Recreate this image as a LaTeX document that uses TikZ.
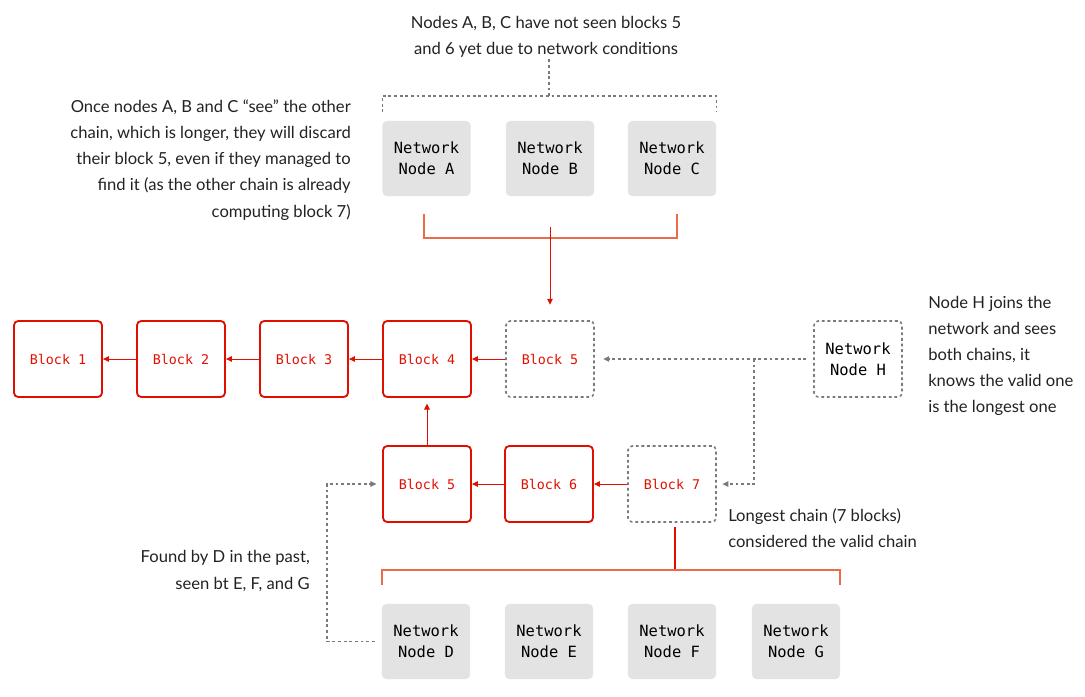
\documentclass[tikz,border=0pt]{standalone}
\usepackage{fontspec}
\setmainfont{Lato}
\setmonofont{DejaVu Sans Mono}
\usetikzlibrary{arrows.meta}
\definecolor{chainred}{HTML}{E00F00}
\definecolor{bracketred}{HTML}{EC6A4C}
\definecolor{nodegrey}{HTML}{E3E3E3}
\definecolor{dashgrey}{HTML}{7A7A7A}
\definecolor{notegrey}{HTML}{222222}

\begin{document}
\begin{tikzpicture}[x=0.025cm,y=-0.025cm,blk/.style={draw=chainred,line width=1.3pt,rounded corners=3pt,minimum width=2.2cm,minimum height=1.9cm,font=\ttfamily\fontsize{9.5}{12}\selectfont,text=chainred},pend/.style={blk,draw=dashgrey,dash pattern=on 2pt off 2pt,line width=1.1pt},net/.style={fill=nodegrey,rounded corners=3pt,minimum width=2.2cm,minimum height=1.875cm,align=center,font=\ttfamily\fontsize{11}{15}\selectfont},note/.style={font=\fontsize{11.8}{18.6}\selectfont,text=notegrey,inner sep=0pt},a/.style={-{Triangle[length=1.5mm,width=1.4mm]},draw=chainred,line width=0.7pt},g/.style={-{Triangle[length=1.5mm,width=1.4mm]},draw=dashgrey,dash pattern=on 2pt off 2pt,line width=0.8pt},gl/.style={draw=dashgrey,dash pattern=on 2pt off 2pt,line width=0.8pt},br/.style={draw=bracketred,line width=1pt}]
\useasboundingbox (0,0) rectangle (1085,697);
\node[note,align=center] (topnote) at (546,37) {Nodes A, B, C have not seen blocks 5\\and 6 yet due to network conditions};
\node[net] (a) at (426.5,158.5) {Network\\Node A};
\node[net] (b) at (550,158.5) {Network\\Node B};
\node[net] (c) at (672,158.5) {Network\\Node C};
\node[note,align=right,anchor=east] (seenote) at (351,160) {Once nodes A, B and C “see” the other\\chain, which is longer, they will discard\\their block 5, even if they managed to\\find it (as the other chain is already\\computing block 7)};
% main chain
\node[blk] (b1) at (58,359) {Block 1};
\node[blk] (b2) at (181,359) {Block 2};
\node[blk] (b3) at (304,359) {Block 3};
\node[blk] (b4) at (427,359) {Block 4};
\node[pend] (b5a) at (550,359) {Block 5};
\node[pend,text=black,align=center,font=\ttfamily\fontsize{11}{15}\selectfont] (h) at (858,359) {Network\\Node H};
\node[note,align=left,anchor=west] (hnote) at (928,356) {Node H joins the\\network and sees\\both chains, it\\knows the valid one\\is the longest one};
% longer chain
\node[blk] (b5b) at (427,484) {Block 5};
\node[blk] (b6) at (549,484) {Block 6};
\node[pend] (b7) at (672,484) {Block 7};
\node[note,align=left,anchor=west] (longnote) at (728,528) {Longest chain (7 blocks)\\considered the valid chain};
\node[note,align=right,anchor=east] (foundnote) at (310,571) {Found by D in the past,\\seen bt E, F, and G};
\node[net] (d) at (426,641.5) {Network\\Node D};
\node[net] (e) at (549,641.5) {Network\\Node E};
\node[net] (f) at (672,641.5) {Network\\Node F};
\node[net] (gg) at (796,641.5) {Network\\Node G};
% connectors
\draw[a] (b2) -- (b1); \draw[a] (b3) -- (b2); \draw[a] (b4) -- (b3); \draw[a] (b5a) -- (b4);
\draw[a,shorten >=4pt] (b5b) -- (b4); \draw[a] (b6) -- (b5b); \draw[a] (b7) -- (b6);
\coordinate (hj) at (754,359);
\draw[g,shorten <=5pt,shorten >=6pt] (h.west) -- (b5a.east);
\draw[g,shorten >=4pt] (hj) |- (b7.east);
\coordinate (dl) at (327,484);
\draw[g,shorten <=5pt,shorten >=4pt] (d.west) -| (dl) -- (b5b.west);
% brackets
\coordinate (tb) at (549,96);
\draw[gl] ([yshift=6pt]a.north west) |- (tb) -| ([yshift=6pt]c.north east);
\draw[gl] (tb) -- (tb |- topnote.south);
\coordinate (ta) at (424,238); \coordinate (tc) at (677,238); \coordinate (tm) at (550,227);
\draw[br] ([yshift=17pt]ta) -- (ta) -- (tc) -- ([yshift=17pt]tc);
\draw[a,shorten >=11pt] (tm) -- (b5a.north);
\coordinate (bm) at (675,570); \coordinate (bl) at (382,570); \coordinate (bg) at (840,570);
\draw[br,draw=chainred,line width=0.8pt,shorten <=3pt] (b7.south -| bm) -- (bm);
\draw[br] ([yshift=-11pt]bl) -- (bl) -- (bg) -- ([yshift=-11pt]bg);
\end{tikzpicture}
\end{document}
